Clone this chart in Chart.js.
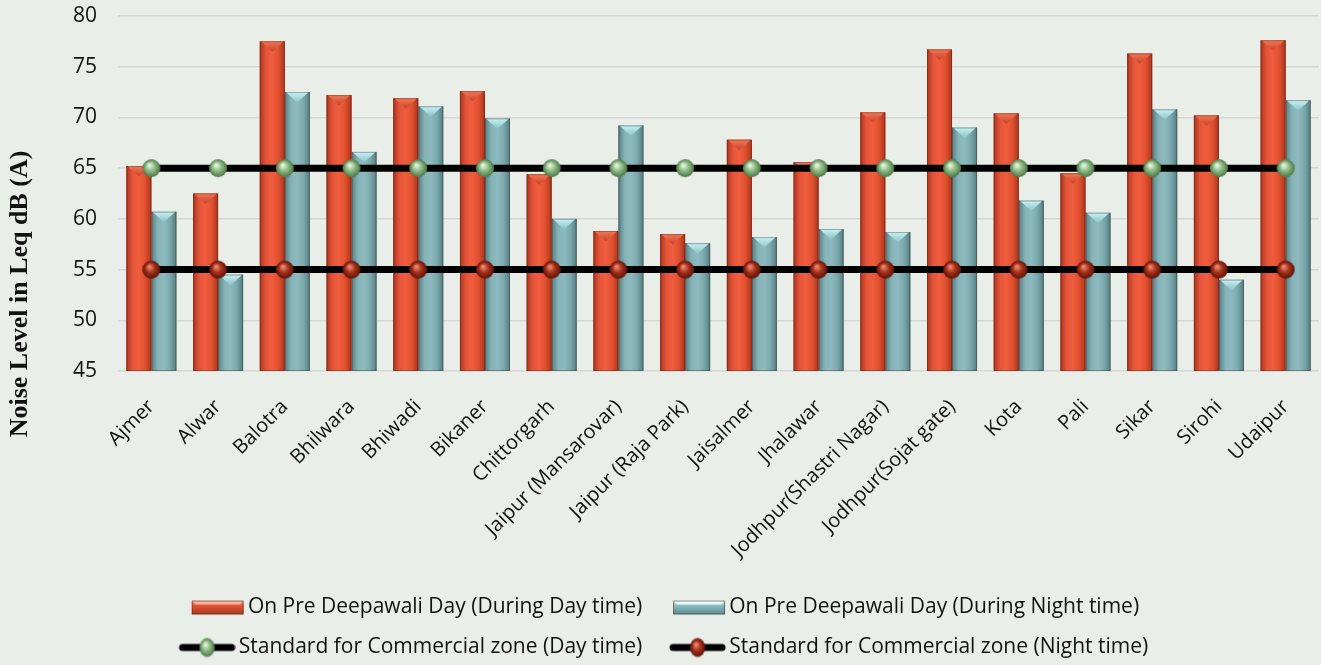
<!DOCTYPE html>
<html>
<head>
<meta charset="utf-8">
<script src="https://cdn.jsdelivr.net/npm/chart.js@4.4.1/dist/chart.umd.min.js"></script>
<style>
  html, body { margin: 0; padding: 0; background: #e9eee8; }
  #wrap { width: 1321px; height: 665px; position: relative; }
</style>
</head>
<body>
<div id="wrap"><canvas id="noiseChart"></canvas></div>
<script>
const cities = ['Ajmer', 'Alwar', 'Balotra', 'Bhilwara', 'Bhiwadi', 'Bikaner', 'Chittorgarh',
  'Jaipur (Mansarovar)', 'Jaipur (Raja Park)', 'Jaisalmer', 'Jhalawar', 'Jodhpur(Shastri Nagar)',
  'Jodhpur(Sojat gate)', 'Kota', 'Pali', 'Sikar', 'Sirohi', 'Udaipur'];
const dayLevels = [65.2, 62.5, 77.5, 72.2, 71.9, 72.6, 64.4, 58.8, 58.5, 67.8, 65.6, 70.5, 76.7, 70.4, 64.5, 76.3, 70.2, 77.6];
const nightLevels = [60.7, 54.5, 72.5, 66.6, 71.1, 69.9, 60.0, 69.2, 57.6, 58.2, 59.0, 58.7, 69.0, 61.8, 60.6, 70.8, 54.0, 71.7];
const dayStandard = cities.map(() => 65);
const nightStandard = cities.map(() => 55);
const yTicks = [45, 50, 55, 60, 65, 70, 75, 80];

const seriesNames = [
  'On Pre Deepawali Day (During Day time)',
  'On Pre Deepawali Day (During Night time)',
  'Standard for Commercial zone (Day time)',
  'Standard for Commercial zone (Night time)'
];
const yTitle = 'Noise Level in Leq dB (A)';

// shaded ball used as line marker
function makeBall(size, light, mid, dark) {
  const c = document.createElement('canvas');
  c.width = size; c.height = size;
  const g = c.getContext('2d');
  const r = size / 2 - 1;
  const grad = g.createRadialGradient(size * 0.4, size * 0.35, 1, size / 2, size / 2, r);
  grad.addColorStop(0, light);
  grad.addColorStop(0.45, mid);
  grad.addColorStop(1, dark);
  g.fillStyle = grad;
  g.beginPath();
  g.arc(size / 2, size / 2, r, 0, Math.PI * 2);
  g.fill();
  return c;
}

const greenBall = makeBall(20, '#e2f2dc', '#8fbb85', '#4c7646');
const redBall = makeBall(20, '#e9866c', '#a8321b', '#5a1208');

// legend icons: 72px wide canvas, artwork pushed to the right so it sits close to the text
function makeBoxIcon(light, mid, dark, cap) {
  const c = document.createElement('canvas');
  c.width = 72; c.height = 22;
  const g = c.getContext('2d');
  const x0 = 19, w = 52, y0 = 4, h = 14;
  const grad = g.createLinearGradient(0, y0, 0, y0 + h);
  grad.addColorStop(0, light);
  grad.addColorStop(0.35, mid);
  grad.addColorStop(1, dark);
  g.fillStyle = grad;
  g.fillRect(x0, y0, w, h);
  g.fillStyle = cap;
  g.beginPath();
  g.moveTo(x0, y0); g.lineTo(x0 + w, y0); g.lineTo(x0 + w - 4, y0 + 4); g.lineTo(x0 + 4, y0 + 4); g.closePath();
  g.fill();
  g.strokeStyle = 'rgba(70,30,20,0.5)';
  g.lineWidth = 1;
  g.strokeRect(x0 + 0.5, y0 + 0.5, w - 1, h - 1);
  return c;
}

function makeLineIcon(ball) {
  const c = document.createElement('canvas');
  c.width = 72; c.height = 22;
  const g = c.getContext('2d');
  g.fillStyle = '#000';
  g.beginPath();
  g.moveTo(19, 7.5); g.lineTo(68, 7.5); g.arc(68, 11, 3.5, -Math.PI / 2, Math.PI / 2); g.lineTo(19, 14.5);
  g.arc(19, 11, 3.5, Math.PI / 2, Math.PI * 1.5);
  g.fill();
  g.save();
  g.translate(43.5, 11);
  g.scale(0.85, 1.05);
  g.drawImage(ball, -10, -10, 20, 20);
  g.restore();
  return c;
}

const legendIcons = [
  makeBoxIcon('#f49a7c', '#e4553a', '#a8381f', '#f7b39a'),
  makeBoxIcon('#d4f7f8', '#8cbcc0', '#5b8a8e', '#e4fdfd'),
  makeLineIcon(greenBall),
  makeLineIcon(redBall)
];

const barLook = {
  0: { stops: ['#a9361f', '#e5553a', '#f05d3e', '#e0502f', '#a8351e'], cap: '#f27a58', capDark: '#c9442a' },
  1: { stops: ['#557f84', '#86b3b7', '#8dbabe', '#7aa8ac', '#537d81'], cap: '#c6f3f5', capDark: '#8ec4c8' }
};

// shading on top of the plain bars: horizontal gradient + light pyramid cap
const bevelPlugin = {
  id: 'bevelPlugin',
  afterDatasetDraw(chart, args) {
    const look = barLook[args.index];
    if (!look) return;
    const { ctx, chartArea } = chart;
    ctx.save();
    ctx.beginPath();
    ctx.rect(chartArea.left, chartArea.top, chartArea.right - chartArea.left, chartArea.bottom - chartArea.top);
    ctx.clip();
    args.meta.data.forEach((bar) => {
      const { x, y, width } = bar.getProps(['x', 'y', 'width'], true);
      const base = chartArea.bottom;
      const l = x - width / 2, r = x + width / 2;
      const grad = ctx.createLinearGradient(l, 0, r, 0);
      look.stops.forEach((c, i) => grad.addColorStop(i / (look.stops.length - 1), c));
      ctx.fillStyle = grad;
      ctx.fillRect(l, y, width, base - y);
      const cap = ctx.createLinearGradient(0, y, 0, y + 10);
      cap.addColorStop(0, look.cap);
      cap.addColorStop(1, look.capDark);
      ctx.fillStyle = cap;
      ctx.beginPath();
      ctx.moveTo(l + 1, y);
      ctx.lineTo(r - 1, y);
      ctx.lineTo(x, y + width * 0.42);
      ctx.closePath();
      ctx.fill();
      ctx.strokeStyle = 'rgba(60,30,20,0.35)';
      ctx.lineWidth = 1;
      ctx.strokeRect(l + 0.5, y + 0.5, width - 1, base - y - 1);
    });
    ctx.restore();
  }
};

// the axis title sits lower than the axis middle in the original, so it is drawn here
const yTitlePlugin = {
  id: 'yTitlePlugin',
  afterDraw(chart) {
    const { ctx } = chart;
    ctx.save();
    ctx.translate(20, 294);
    ctx.rotate(-Math.PI / 2);
    ctx.font = 'bold 26px "Liberation Serif"';
    ctx.fillStyle = '#111';
    ctx.textAlign = 'center';
    ctx.textBaseline = 'middle';
    ctx.fillText(yTitle, 0, 0);
    ctx.restore();
  }
};

new Chart(document.getElementById('noiseChart'), {
  type: 'bar',
  data: {
    labels: cities,
    datasets: [
      {
        label: seriesNames[0],
        data: dayLevels,
        backgroundColor: '#e2512f',
        categoryPercentage: 0.75,
        barPercentage: 1,
        order: 2
      },
      {
        label: seriesNames[1],
        data: nightLevels,
        backgroundColor: '#7fb0b4',
        categoryPercentage: 0.75,
        barPercentage: 1,
        order: 2
      },
      {
        type: 'line',
        label: seriesNames[2],
        data: dayStandard,
        borderColor: '#000',
        borderWidth: 7,
        pointStyle: greenBall,
        pointRadius: 10,
        order: 1
      },
      {
        type: 'line',
        label: seriesNames[3],
        data: nightStandard,
        borderColor: '#000',
        borderWidth: 7,
        pointStyle: redBall,
        pointRadius: 10,
        order: 1
      }
    ]
  },
  options: {
    responsive: true,
    maintainAspectRatio: false,
    animation: false,
    layout: { autoPadding: false, padding: { left: 0, right: 2, top: 16, bottom: -3 } },
    plugins: {
      tooltip: { enabled: false },
      legend: {
        position: 'bottom',
        labels: {
          font: { family: 'Open Sans', size: 21 },
          color: '#111',
          usePointStyle: true,
          pointStyleWidth: 57.5,
          padding: 19,
          generateLabels: () => seriesNames.map((name, i) => ({
            text: name,
            pointStyle: legendIcons[i],
            datasetIndex: i,
            hidden: false,
            lineWidth: 0,
            strokeStyle: 'transparent',
            fillStyle: 'transparent',
            fontColor: '#111'
          }))
        }
      }
    },
    scales: {
      x: {
        grid: { display: false },
        border: { display: false },
        ticks: {
          font: { family: 'Open Sans', size: 20 },
          color: '#111',
          maxRotation: 45,
          minRotation: 45,
          padding: 16
        },
        afterFit(scale) {
          scale.height = 207;
          scale.paddingTop = 0;
          scale.paddingRight = 0;
          scale.paddingLeft = 0;
        }
      },
      y: {
        min: 45,
        max: 80,
        afterBuildTicks(scale) { scale.ticks = yTicks.map((v) => ({ value: v })); },
        grid: { color: '#d6d6d6', lineWidth: 1.5, drawTicks: false },
        border: { display: false },
        ticks: {
          font: { family: 'Open Sans', size: 21 },
          color: '#111',
          padding: 21
        },
        afterFit(scale) {
          scale.width = 118;
          scale.paddingTop = 0;
          scale.paddingBottom = 0;
        }
      }
    }
  },
  plugins: [bevelPlugin, yTitlePlugin]
});
</script>
</body>
</html>
